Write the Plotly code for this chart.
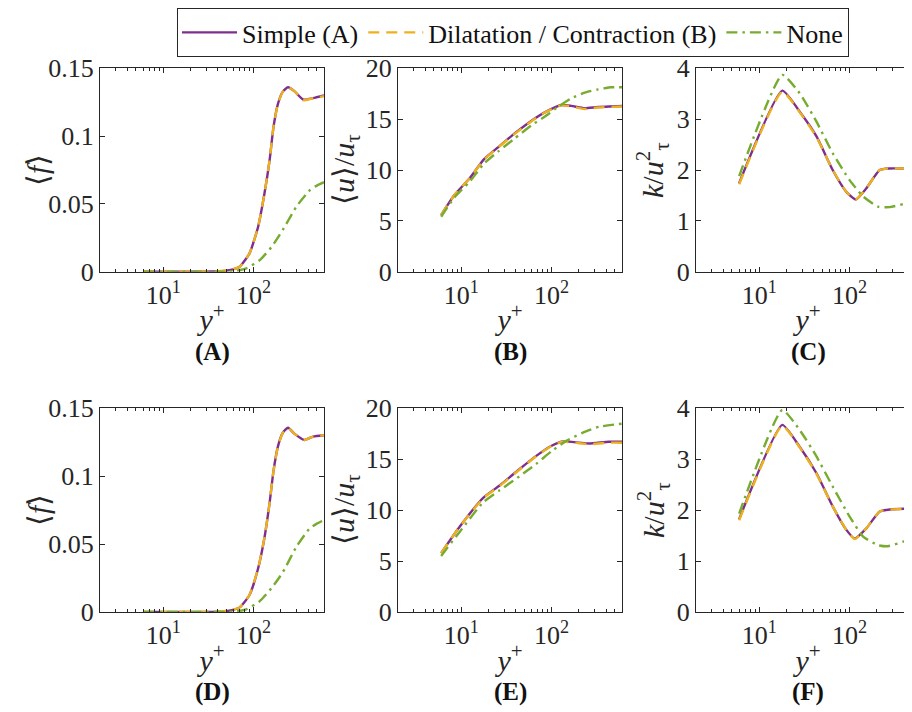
import plotly.graph_objects as go

# ---------------- data ----------------
series_names = ["Simple (A)", "Dilatation / Contraction (B)", "None"]
panel_labels = ["(A)", "(B)", "(C)", "(D)", "(E)", "(F)"]
x_tick_vals = [10, 100]
x_tick_text = ["10<sup>1</sup>", "10<sup>2</sup>"]

# (A) <f>, case 1
fA_simple_x = [6, 20, 40, 54, 70, 90, 112, 132, 150, 166, 186, 211, 240, 284, 352, 454, 600]
fA_simple_y = [0, 0, 0.0003, 0.0012, 0.0037, 0.0135, 0.033, 0.058, 0.082, 0.107, 0.124, 0.133, 0.136, 0.133, 0.127, 0.128, 0.130]
fA_dil_y = [0, 0, 0.0003, 0.0012, 0.0037, 0.0135, 0.033, 0.058, 0.082, 0.107, 0.124, 0.133, 0.136, 0.133, 0.1265, 0.128, 0.1295]
fA_none_x = [6, 40, 59, 83, 117, 157, 211, 297, 417, 500, 600]
fA_none_y = [0, 0, 0.0003, 0.0025, 0.0086, 0.018, 0.031, 0.048, 0.060, 0.0635, 0.066]

# (D) <f>, case 2
fD_simple_x = [6, 20, 40, 54, 70, 90, 112, 132, 150, 166, 186, 211, 240, 284, 365, 454, 600]
fD_simple_y = [0, 0, 0.0003, 0.001, 0.0034, 0.0125, 0.032, 0.055, 0.080, 0.104, 0.122, 0.132, 0.1355, 0.131, 0.1265, 0.129, 0.130]
fD_dil_y = [0, 0, 0.0003, 0.001, 0.0034, 0.0125, 0.032, 0.055, 0.080, 0.104, 0.122, 0.132, 0.1355, 0.131, 0.1265, 0.129, 0.130]
fD_none_x = [6, 40, 59, 83, 117, 157, 211, 297, 417, 500, 600]
fD_none_y = [0, 0, 0.0003, 0.002, 0.008, 0.0174, 0.0294, 0.048, 0.0615, 0.065, 0.0676]

# (B) <u>/u_tau, case 1
uB_simple_x = [6, 8.4, 12.4, 17.8, 25.5, 39, 60, 84, 128, 165, 232, 326, 600]
uB_simple_y = [5.57, 7.54, 9.18, 11.05, 12.23, 13.6, 14.85, 15.67, 16.39, 16.3, 16.07, 16.2, 16.3]
uB_dil_y = [5.57, 7.54, 9.18, 11.0, 12.2, 13.55, 14.8, 15.65, 16.35, 16.25, 16.0, 16.15, 16.25]
uB_none_x = [6, 8.4, 12.4, 18, 25.5, 39, 60, 84, 117, 165, 232, 326, 457, 600]
uB_none_y = [5.4, 7.3, 8.85, 10.66, 11.8, 13.1, 14.4, 15.25, 16.2, 17.05, 17.6, 17.93, 18.13, 18.13]

# (E) <u>/u_tau, case 2
uE_simple_x = [6, 9.7, 17.5, 26.6, 44, 67, 100, 132, 201, 259, 430, 600]
uE_simple_y = [5.77, 8.4, 11.2, 12.4, 14.0, 15.28, 16.3, 16.72, 16.6, 16.52, 16.69, 16.69]
uE_dil_y = [5.77, 8.4, 11.15, 12.35, 13.95, 15.25, 16.28, 16.7, 16.55, 16.45, 16.6, 16.6]
uE_none_x = [6, 9.7, 17.5, 26.6, 44, 67, 100, 144, 219, 334, 600]
uE_none_y = [5.5, 7.9, 10.75, 11.93, 13.3, 14.5, 15.77, 16.75, 17.57, 18.16, 18.46]

# (C) k/u_tau^2, case 1
kC_simple_x = [6, 18, 29, 43, 65, 92, 117, 153, 215, 278, 400, 600]
kC_simple_y = [1.74, 3.56, 3.11, 2.66, 2.0, 1.57, 1.42, 1.64, 2.0, 2.03, 2.03, 2.03]
kC_dil_y = [1.72, 3.54, 3.1, 2.65, 2.0, 1.57, 1.42, 1.64, 2.0, 2.03, 2.03, 2.03]
kC_none_x = [6, 18, 28, 43, 65, 100, 141, 206, 278, 391, 497, 600]
kC_none_y = [1.88, 3.87, 3.51, 2.95, 2.33, 1.8, 1.48, 1.28, 1.27, 1.33, 1.39, 1.44]

# (F) k/u_tau^2, case 2
kF_simple_x = [6, 18, 28, 43, 65, 92, 114, 153, 215, 278, 497, 600]
kF_simple_y = [1.82, 3.67, 3.24, 2.72, 2.07, 1.61, 1.44, 1.64, 1.97, 2.01, 2.03, 2.03]
kF_dil_y = [1.80, 3.65, 3.23, 2.71, 2.07, 1.61, 1.43, 1.64, 1.97, 2.01, 2.03, 2.03]
kF_none_x = [6, 18, 28, 43, 65, 100, 141, 206, 265, 391, 497, 600]
kF_none_y = [1.93, 3.96, 3.57, 3.05, 2.46, 1.87, 1.48, 1.31, 1.29, 1.38, 1.48, 1.55]

panels = [
    (fA_simple_x, fA_simple_y, fA_dil_y, fA_none_x, fA_none_y),
    (uB_simple_x, uB_simple_y, uB_dil_y, uB_none_x, uB_none_y),
    (kC_simple_x, kC_simple_y, kC_dil_y, kC_none_x, kC_none_y),
    (fD_simple_x, fD_simple_y, fD_dil_y, fD_none_x, fD_none_y),
    (uE_simple_x, uE_simple_y, uE_dil_y, uE_none_x, uE_none_y),
    (kF_simple_x, kF_simple_y, kF_dil_y, kF_none_x, kF_none_y),
]
y_titles = ["⟨<i>f</i>⟩", "⟨<i>u</i>⟩/<i>u</i><sub>τ</sub>", "<i>k</i>/<i>u</i><sup>2</sup><sub>τ</sub>"] * 2
y_ranges = [[0, 0.15], [0, 20], [0, 4]] * 2
y_dticks = [0.05, 5, 1] * 2

# ---------------- style ----------------
W, H = 912, 712
OFF = 8  # page body margin: figure coords = screen coords - 8
FONT = "Liberation Serif"
AX = "#262626"
C_PURPLE, C_ORANGE, C_GREEN = "#7E2F8E", "#EDB120", "#77AC30"
LW = 2.4

col_px = [(100 - OFF, 324 - OFF), (398 - OFF, 622 - OFF), (696 - OFF, 920 - OFF)]
row_px = [(68.3 - OFF, 271.7 - OFF), (408 - OFF, 612 - OFF)]
ytitle_gap = [62, 52, 43]             # px from axis line to y-title centre
x_range = [0.30103, 2.77815]          # log10(2), log10(600)

fig = go.Figure()
minor_vals = [v * m for m in (1, 10, 100) for v in range(2, 10) if v * m <= 600]

for i, (sx, sy, dy, nx, ny) in enumerate(panels):
    r, c = divmod(i, 3)
    ax = "" if i == 0 else str(i + 1)
    xa, ya = "x" + ax, "y" + ax
    show = i == 0
    fig.add_trace(go.Scatter(x=sx, y=sy, mode="lines", name=series_names[0], legendgroup="a",
                             showlegend=show, line=dict(color=C_PURPLE, width=LW, shape="spline", smoothing=0.5),
                             xaxis=xa, yaxis=ya))
    fig.add_trace(go.Scatter(x=sx, y=dy, mode="lines", name=series_names[1], legendgroup="b",
                             showlegend=show, line=dict(color=C_ORANGE, width=LW, dash="11px,7px", shape="spline", smoothing=0.5),
                             xaxis=xa, yaxis=ya))
    fig.add_trace(go.Scatter(x=nx, y=ny, mode="lines", name=series_names[2], legendgroup="c",
                             showlegend=show, line=dict(color=C_GREEN, width=LW, dash="11px,5px,2.5px,5px", shape="spline", smoothing=0.5),
                             xaxis=xa, yaxis=ya))

    x0, x1 = col_px[c]
    y0, y1 = row_px[r]
    common = dict(showline=True, linecolor=AX, linewidth=1, mirror="ticks", ticks="inside",
                  tickcolor=AX, ticklen=5, showgrid=False, zeroline=False, automargin=False,
                  tickfont=dict(family=FONT, size=26, color=AX))
    fig.layout["xaxis" + ax] = dict(
        type="log", range=x_range, domain=[x0 / W, min(x1 / W, 1.0)],
        anchor=ya, tickmode="array", tickvals=x_tick_vals, ticktext=x_tick_text,
        minor=dict(tickmode="array", tickvals=minor_vals, ticks="inside", ticklen=3, tickcolor=AX),
        title=dict(text="<i>y</i><sup>+</sup>", font=dict(family=FONT, size=30, color=AX), standoff=0),
        **common)
    fig.layout["yaxis" + ax] = dict(
        range=y_ranges[i], domain=[1 - y1 / H, 1 - y0 / H], anchor=xa,
        tickmode="linear", tick0=0, dtick=y_dticks[i],
        **common)
    # y-axis title
    fig.add_annotation(text=y_titles[i], xref="paper", yref="paper",
                       x=(x0 - ytitle_gap[c]) / W, y=1 - (y0 + y1) / 2 / H, textangle=-90,
                       showarrow=False, xanchor="center", yanchor="middle",
                       font=dict(family=FONT, size=30, color=AX))
    # panel label
    fig.add_annotation(text="<b>" + panel_labels[i] + "</b>", xref="paper", yref="paper",
                       x=(x0 + x0 + 224) / 2 / W, y=1 - (y1 + 80) / H, showarrow=False,
                       xanchor="center", yanchor="middle",
                       font=dict(family=FONT, size=25, color="#111111"))

fig.update_layout(
    width=W, height=H, margin=dict(l=0, r=0, t=0, b=0, autoexpand=False),
    paper_bgcolor="white", plot_bgcolor="white",
    font=dict(family=FONT, size=24, color="#111111"),
    legend=dict(orientation="h", x=(513 - OFF) / W, y=1.0, xanchor="center", yanchor="top",
                bordercolor=AX, borderwidth=1, bgcolor="white",
                font=dict(family=FONT, size=26, color="#111111"),
                itemwidth=55, tracegroupgap=0),
)

fig.write_html("out.html")
